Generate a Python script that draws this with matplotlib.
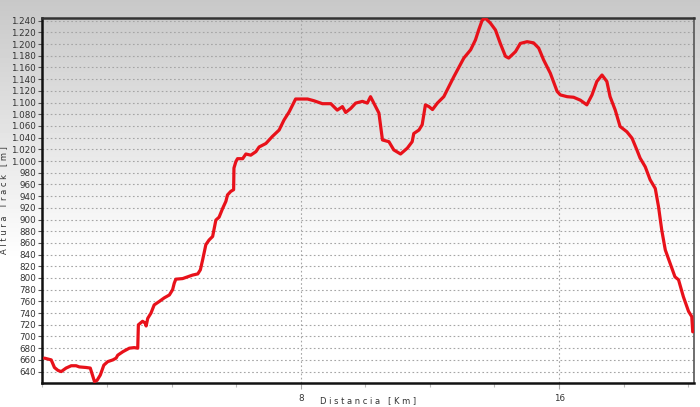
import numpy as np
import matplotlib
matplotlib.use("Agg")
import matplotlib.pyplot as plt
from matplotlib.ticker import FixedLocator, FuncFormatter

distance_km = [
    0.06, 0.27, 0.37, 0.48, 0.58, 0.73, 0.89, 1.04, 1.14, 1.35, 1.48, 1.56, 1.61, 1.69, 1.79,
    1.90, 2.02, 2.18, 2.28, 2.33, 2.49, 2.69, 2.84, 2.95, 2.97, 3.10, 3.18, 3.21, 3.26, 3.36,
    3.46, 3.62, 3.77, 3.93, 4.03, 4.08, 4.13, 4.34, 4.50, 4.65, 4.81, 4.89, 4.96, 5.06, 5.16,
    5.27, 5.32, 5.37, 5.47, 5.58, 5.68, 5.73, 5.83, 5.92, 5.93, 5.99, 6.04, 6.20, 6.25, 6.30,
    6.45, 6.61, 6.71, 6.92, 7.12, 7.33, 7.48, 7.64, 7.84, 8.21, 8.41, 8.67, 8.93, 9.13, 9.29,
    9.39, 9.55, 9.70, 9.91, 10.06, 10.16, 10.29, 10.42, 10.53, 10.73, 10.88, 11.09, 11.30,
    11.45, 11.50, 11.66, 11.76, 11.86, 11.97, 12.08, 12.23, 12.43, 12.74, 13.05, 13.26, 13.41,
    13.51, 13.62, 13.72, 13.87, 14.03, 14.18, 14.34, 14.44, 14.65, 14.80, 15.01, 15.21, 15.37,
    15.52, 15.73, 15.94, 16.04, 16.25, 16.45, 16.66, 16.86, 17.02, 17.17, 17.33, 17.48, 17.58,
    17.74, 17.89, 18.10, 18.26, 18.41, 18.51, 18.67, 18.82, 18.98, 19.08, 19.18, 19.29, 19.44,
    19.59, 19.70, 19.85, 20.01, 20.11, 20.14,
]
altitude_m = [
    663, 660, 647, 642, 640, 646, 650, 650, 648, 647, 646, 632, 623, 625, 634,
    651, 657, 660, 663, 668, 674, 680, 681, 680, 720, 726, 723, 718, 731, 740,
    754, 760, 766, 771, 780, 791, 798, 799, 802, 805, 807, 814, 831, 857, 865,
    871, 885, 899, 904, 919, 931, 942, 948, 951, 988, 999, 1004, 1004, 1008, 1012,
    1010, 1016, 1024, 1030, 1042, 1053, 1070, 1084, 1106, 1106, 1103, 1098, 1098, 1087, 1093,
    1083, 1090, 1099, 1102, 1099, 1110, 1096, 1082, 1036, 1033, 1019, 1012, 1022,
    1033, 1047, 1053, 1062, 1096, 1093, 1088, 1099, 1110, 1144, 1176, 1190, 1207,
    1224, 1241, 1244, 1236, 1224, 1201, 1179, 1176, 1187, 1201, 1204, 1202, 1193,
    1173, 1150, 1119, 1113, 1110, 1109, 1104, 1096, 1113, 1136, 1147, 1136, 1110,
    1087, 1059, 1050, 1039, 1019, 1005, 990, 968, 953, 922, 882, 848, 825,
    802, 797, 768, 743, 734, 708,
]

y_ticks = list(range(640, 1241, 20))
x_major_ticks = [8, 16]
x_minor_ticks = [0, 2, 4, 6, 10, 12, 14, 18, 20]

fig = plt.figure(figsize=(7.0, 4.07), dpi=100)

# background gradient (gray at top to white at bottom)
bg = fig.add_axes([0, 0, 1, 1], zorder=-10)
h = 407
rows = np.arange(h)
vals = np.clip(200 + (rows / 260.0) * 55, 0, 255) / 255.0
grad = np.repeat(vals[:, None], 2, axis=1)
bg.imshow(grad, cmap="gray", vmin=0, vmax=1, aspect="auto", extent=[0, 1, 0, 1], origin="upper")
bg.set_axis_off()

ax = fig.add_axes([0.0607, 0.0597, 0.9303, 0.8968])
ax.patch.set_alpha(0)

ax.plot(distance_km, altitude_m, color="#e8111a", lw=2.3, solid_joinstyle="round",
        solid_capstyle="round", zorder=5)

ax.set_xlim(0, 20.17)
ax.set_ylim(621, 1245)

ax.yaxis.set_major_locator(FixedLocator(y_ticks))
ax.yaxis.set_major_formatter(FuncFormatter(lambda v, p: f"{int(v):,}".replace(",", ".")))
ax.xaxis.set_major_locator(FixedLocator(x_major_ticks))
ax.xaxis.set_minor_locator(FixedLocator(x_minor_ticks))
ax.xaxis.set_major_formatter(FuncFormatter(lambda v, p: f"{int(v)}"))

ax.grid(True, which="major", axis="both", color="#a5a5a5", linestyle=(0, (1.5, 2.2)), lw=0.8)

ax.tick_params(axis="y", which="major", length=3, width=0.8, color="#555555",
               labelsize=6.3, labelcolor="#333333", pad=1.5)
ax.tick_params(axis="x", which="major", length=4, width=0.8, color="#aaaaaa",
               labelsize=6.3, labelcolor="#333333", pad=4)
ax.tick_params(axis="x", which="minor", length=3, width=0.8, color="#bbbbbb")

for side in ["left", "bottom"]:
    ax.spines[side].set_linewidth(1.8)
    ax.spines[side].set_color("#111111")
ax.spines["top"].set_linewidth(1.8)
ax.spines["top"].set_color("#333333")
ax.spines["right"].set_linewidth(1.2)
ax.spines["right"].set_color("#555555")

ax.set_xlabel("D i s t a n c i a   [ K m ]", fontsize=6.0, color="#333333")
ax.set_ylabel("A l t u r a   T r a c k   [ m ]", fontsize=6.0, color="#333333")
ax.xaxis.set_label_coords(0.5, -0.036)
ax.yaxis.set_label_coords(-0.053, 0.5)

fig.savefig("out.png", dpi=100)
